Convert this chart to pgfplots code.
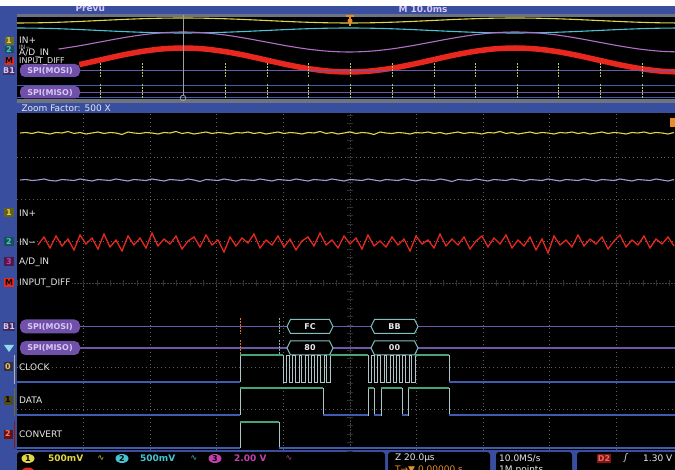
\documentclass[border=0pt]{standalone}
\usepackage{pgfplots}
\pgfplotsset{compat=1.18}
\usepackage{pgfplotstable}
\usetikzlibrary{shapes.geometric}
\usepackage{fontspec}
\setmainfont{DejaVu Sans}
\definecolor{scblue}{RGB}{58,78,160}
\definecolor{scgray}{RGB}{110,115,130}
\definecolor{yelc}{RGB}{222,214,70}
\definecolor{cyanc}{RGB}{70,196,214}
\definecolor{purc}{RGB}{180,110,200}
\definecolor{mixc}{RGB}{170,150,215}
\definecolor{redc}{RGB}{232,40,30}
\definecolor{buspur}{RGB}{110,86,168}
\definecolor{spifill}{RGB}{112,80,168}
\definecolor{spitext}{RGB}{215,200,245}
\definecolor{lowc}{RGB}{64,92,176}
\definecolor{hic}{RGB}{72,164,116}
\definecolor{edgec}{RGB}{175,198,200}
\definecolor{boxc}{RGB}{130,190,190}
\definecolor{gridc}{RGB}{95,95,100}
\definecolor{tickc}{RGB}{180,200,110}
\definecolor{lbl}{RGB}{232,232,232}
\definecolor{magc}{RGB}{196,64,176}
\definecolor{orc}{RGB}{230,140,40}

\pgfplotstableread{
x yel cyan pur red
17 23 28 52 72
37.75 22.81 28.19 51.24 71.09
58.5 22.27 28.73 49.07 68.48
79.25 21.46 29.54 45.83 64.60
100 20.5 30.5 42 60
120.75 19.54 31.46 38.17 55.40
141.5 18.73 32.27 34.93 51.52
162.25 18.19 32.81 32.76 48.91
183 18 33 32 48
203.75 18.19 32.81 32.76 48.91
224.5 18.73 32.27 34.93 51.52
245.25 19.54 31.46 38.17 55.40
266 20.5 30.5 42 60
286.75 21.46 29.54 45.83 64.60
307.5 22.27 28.73 49.07 68.48
328.25 22.81 28.19 51.24 71.09
349 23 28 52 72
369.75 22.81 28.19 51.24 71.09
390.5 22.27 28.73 49.07 68.48
411.25 21.46 29.54 45.83 64.60
432 20.5 30.5 42 60
452.75 19.54 31.46 38.17 55.40
473.5 18.73 32.27 34.93 51.52
494.25 18.19 32.81 32.76 48.91
515 18 33 32 48
535.75 18.19 32.81 32.76 48.91
556.5 18.73 32.27 34.93 51.52
577.25 19.54 31.46 38.17 55.40
598 20.5 30.5 42 60
618.75 21.46 29.54 45.83 64.60
639.5 22.27 28.73 49.07 68.48
660.25 22.81 28.19 51.24 71.09
681 23 28 52 72
}\overtab

\pgfplotstableread{
x yel pur red
20 133 180 242
26 132.5 179.5 242
32 133.5 180.5 241
38 132 180 245
44 133 179 237
50 134 180.5 248
56 132.5 181 236
62 133 179.5 246
68 131.5 180 239
74 133.5 180.5 250
80 132.5 179 235
86 134 180 244
92 133 181 238
98 132 179.5 249
104 133.5 180 234
110 132.5 180.5 247
116 133 179 240
122 134.5 180 251
128 132 181 236
134 133 179.5 245
140 133.5 180 238
146 132.5 180.5 248
152 133 179 233
158 134 180 246
164 132.5 181 239
170 133 179.5 244
176 131.5 180 236
182 133.5 180.5 249
188 132.5 179 241
194 134 180 237
200 133 181.5 247
206 132 179.5 235
212 133.5 180 245
218 132.5 180.5 240
224 133 179 252
230 134 180 237
236 132.5 181 246
242 133 179.5 238
248 132 180 243
254 133.5 180.5 234
260 132.5 179 248
266 134 180 240
272 133 181 245
278 132 179.5 236
284 133.5 180 247
290 132.5 180.5 239
296 133 179 250
302 134 180 241
308 132.5 181 237
314 133 179.5 246
320 131.5 180 233
326 133.5 180.5 245
332 132.5 179 240
338 134 180 248
344 133 181 236
350 132 179.5 244
356 133.5 180 238
362 132.5 180.5 249
368 133 179 235
374 134.5 180 246
380 132 181 241
386 133 179.5 247
392 133.5 180 237
398 132.5 180.5 245
404 133 179 239
410 134 180 251
416 132.5 181 236
422 133 179.5 244
428 132 180 240
434 133.5 180.5 248
440 132.5 179 234
446 134 180 246
452 133 181.5 239
458 132 179.5 245
464 133.5 180 237
470 132.5 180.5 249
476 133 179 241
482 134 180 236
488 132.5 181 247
494 133 179.5 238
500 131.5 180 244
506 133.5 180.5 235
512 132.5 179 248
518 134 180 240
524 133 181 246
530 132 179.5 237
536 133.5 180 250
542 132.5 180.5 239
548 133 179 253
554 134 180 236
560 132.5 181 245
566 133 179.5 240
572 132 180 247
578 133.5 180.5 235
584 132.5 179 246
590 134 180 239
596 133 181 244
602 132 179.5 237
608 133.5 180 249
614 132.5 180.5 241
620 133 179 235
626 134 180 247
632 132.5 181 240
638 133 179.5 245
644 132 180 236
650 133.5 180.5 248
656 132.5 179 239
662 133 180 244
668 134 181 237
674 132.5 179.5 246
}\zoomtab

\newcommand{\lf}{\fontsize{9}{10}\selectfont}
\newcommand{\smf}{\fontsize{8}{9}\selectfont}
\newcommand{\tnf}{\fontsize{6}{7}\selectfont}

\begin{document}
\begin{tikzpicture}
\begin{axis}[width=675pt,height=470pt,scale only axis,
  xmin=0,xmax=675,ymin=0,ymax=470,y dir=reverse,hide axis,
  clip=true, unbounded coords=jump]

% ---------- backgrounds ----------
\fill[scblue] (axis cs:0,0) rectangle (axis cs:675,470);
\fill[black] (axis cs:17,15) rectangle (axis cs:675,100);
\fill[scgray] (axis cs:17,14) rectangle (axis cs:675,17);
\fill[scgray] (axis cs:17,99) rectangle (axis cs:675,103);
\fill[black] (axis cs:17,113) rectangle (axis cs:675,450);

% ---------- top bar text ----------
\node[anchor=west,text=spitext,font=\lf\bfseries] at (axis cs:72,8) {Prevu};
\node[anchor=west,text=spitext,font=\lf\bfseries] at (axis cs:395,9) {M 10.0ms};
\fill[white] (axis cs:0,0) rectangle (axis cs:675,6.5);
\node[anchor=west,text=lbl,font=\lf] at (axis cs:18,108) {Zoom Factor: 500 X};

% ---------- overview panel ----------
\addplot[yelc, line width=1.1pt, smooth] table[x=x,y=yel]{\overtab};
\addplot[cyanc, line width=1.1pt, smooth] table[x=x,y=cyan]{\overtab};
\addplot[purc, line width=1.1pt, smooth, restrict x to domain=58:682] table[x=x,y=pur]{\overtab};
\addplot[redc, line width=5.5pt, smooth, restrict x to domain=79:682] table[x=x,y=red]{\overtab};
\addplot[buspur, line width=1.2pt] coordinates {(80,70.5)(675,70.5)};
\addplot[lowc, line width=1pt] coordinates {(17,86)(675,86)};
\addplot[buspur, line width=1.2pt] coordinates {(80,92.5)(675,92.5)};
\addplot[lowc, line width=0.8pt] coordinates {(17,97)(675,97)};
\addplot[tickc, line width=0.8pt, dash pattern=on 2pt off 1pt] coordinates {
(100,63)(100,77)(100,nan)(142,63)(142,77)(142,nan)(225,63)(225,77)(225,nan)
(267,63)(267,77)(267,nan)(308,63)(308,77)(308,nan)(350,63)(350,77)(350,nan)
(392,63)(392,77)(392,nan)(434,63)(434,77)(434,nan)(475,63)(475,77)(475,nan)
(517,63)(517,77)(517,nan)(558,63)(558,77)(558,nan)(600,63)(600,77)(600,nan)
(642,63)(642,77)(642,nan)
(100,84)(100,98)(100,nan)(142,84)(142,98)(142,nan)(225,84)(225,98)(225,nan)
(267,84)(267,98)(267,nan)(308,84)(308,98)(308,nan)(350,84)(350,98)(350,nan)
(392,84)(392,98)(392,nan)(434,84)(434,98)(434,nan)(475,84)(475,98)(475,nan)
(517,84)(517,98)(517,nan)(558,84)(558,98)(558,nan)(600,84)(600,98)(600,nan)
(642,84)(642,98)};
\addplot[gray!75, line width=1pt] coordinates {(183,15)(183,95)};
\draw[gray!75, line width=0.8pt] (axis cs:183,98) circle[radius=2.8pt];
\draw[orc, line width=1.6pt] (axis cs:346,16)--(axis cs:354,16);
\draw[orc, line width=1.6pt] (axis cs:350,16)--(axis cs:350,26);
\fill[orc] (axis cs:350,21) circle[radius=2.5pt];
% overview labels
\fill[spifill, rounded corners=5pt] (axis cs:20,64) rectangle (axis cs:80,77);
\node[text=spitext,font=\smf\bfseries] at (axis cs:50,70.5) {SPI(MOSI)};
\fill[spifill, rounded corners=5pt] (axis cs:20,86) rectangle (axis cs:80,98.5);
\node[text=spitext,font=\smf\bfseries] at (axis cs:50,92.5) {SPI(MISO)};
\node[anchor=west,text=lbl,font=\lf,inner sep=0pt] at (axis cs:19,40) {IN+};
\node[anchor=west,text=gray!60,font=\tnf,inner sep=0pt] at (axis cs:19,47) {IN−};
\node[anchor=west,text=lbl,font=\smf,inner sep=0pt] at (axis cs:19,61.5) {INPUT\_DIFF};
\node[anchor=west,text=lbl,font=\lf,inner sep=0pt] at (axis cs:19,53.5) {A/D\_IN};
\node[fill=yelc!50!black,text=yelc,font=\smf\bfseries,inner sep=0.5pt,minimum width=9pt,minimum height=8pt] at (axis cs:9,41) {1};
\node[fill=cyanc!40!black,text=cyanc,font=\smf\bfseries,inner sep=0.5pt,minimum width=9pt,minimum height=7pt] at (axis cs:9,50) {2};
\node[fill=redc,text=black,font=\smf\bfseries,inner sep=0.5pt,minimum width=9pt,minimum height=8pt] at (axis cs:9,61) {M};
\node[fill=spifill!60!black,text=spitext,font=\smf\bfseries,inner sep=0.5pt,minimum width=10pt,minimum height=8pt] at (axis cs:9,71) {B1};

% ---------- main panel grid ----------
\pgfplotsextra{
  \foreach \gx in {83.6,150.2,216.8,283.4,416.6,483.2,549.8,616.4}{
    \draw[gridc, line width=0.7pt, dash pattern=on 0.7pt off 3.2pt] (axis cs:\gx,114) -- (axis cs:\gx,450);}
  \foreach \gy in {157,199,241,367,409}{
    \draw[gridc, line width=0.7pt, dash pattern=on 0.7pt off 3.2pt] (axis cs:17,\gy) -- (axis cs:675,\gy);}
  \draw[gridc!120, line width=0.7pt, dash pattern=on 1.5pt off 1.5pt] (axis cs:350,114) -- (axis cs:350,450);
  \draw[gridc!120, line width=0.7pt, dash pattern=on 1.5pt off 1.5pt] (axis cs:17,283) -- (axis cs:675,283);
  \foreach \k in {0,...,40}{
    \draw[gridc!130, line width=0.7pt] (axis cs:347,{115+8.4*\k}) -- (axis cs:353,{115+8.4*\k});}
  \foreach \k in {0,...,49}{
    \draw[gridc!130, line width=0.7pt] (axis cs:{17+13.32*\k},280) -- (axis cs:{17+13.32*\k},286);}
}

% ---------- analog traces ----------
\addplot[yelc, line width=1.1pt] table[x=x,y=yel]{\zoomtab};
\addplot[mixc, line width=1.1pt] table[x=x,y=pur]{\zoomtab};
\addplot[redc, line width=1.3pt, restrict x to domain=37:675] table[x=x,y=red]{\zoomtab};
\fill[orc] (axis cs:670,118) rectangle (axis cs:675,127);

% ---------- SPI buses ----------
\addplot[buspur, line width=1.5pt, solid] coordinates {(80,326.5)(675,326.5)};
\addplot[buspur, line width=1.5pt, solid] coordinates {(80,348)(675,348)};
\addplot[fill=black, draw=boxc, line width=1pt] coordinates {(287,326.5)(290.5,319.5)(329.5,319.5)(333,326.5)(329.5,333.5)(290.5,333.5)} -- cycle;
\addplot[fill=black, draw=boxc, line width=1pt] coordinates {(371,326.5)(374.5,319.5)(414.5,319.5)(418,326.5)(414.5,333.5)(374.5,333.5)} -- cycle;
\addplot[fill=black, draw=boxc, line width=1pt] coordinates {(287,348)(290.5,341)(329.5,341)(333,348)(329.5,355)(290.5,355)} -- cycle;
\addplot[fill=black, draw=boxc, line width=1pt] coordinates {(371,348)(374.5,341)(414.5,341)(418,348)(414.5,355)(374.5,355)} -- cycle;
\node[text=lbl,font=\smf\bfseries] at (axis cs:310,326.5) {FC};
\node[text=lbl,font=\smf\bfseries] at (axis cs:394.5,326.5) {BB};
\node[text=lbl,font=\smf\bfseries] at (axis cs:310,348) {80};
\node[text=lbl,font=\smf\bfseries] at (axis cs:394.5,348) {00};
\addplot[orc!80!red, line width=0.8pt, dash pattern=on 2pt off 1pt] coordinates {(240,318)(240,334)(240,nan)(240,340)(240,355)};
\addplot[hic!70!white, line width=0.8pt, dash pattern=on 2pt off 1pt] coordinates {(279,318)(279,334)(279,nan)(279,340)(279,355)};
\fill[spifill, rounded corners=5.5pt] (axis cs:20,319.5) rectangle (axis cs:80,333.5);
\node[text=spitext,font=\smf\bfseries] at (axis cs:50,326.5) {SPI(MOSI)};
\fill[spifill, rounded corners=5.5pt] (axis cs:20,341) rectangle (axis cs:80,355);
\node[text=spitext,font=\smf\bfseries] at (axis cs:50,348) {SPI(MISO)};

% ---------- digital channels ----------
% CLOCK
\addplot[edgec, line width=0.9pt] coordinates {(240,382)(240,355)(283,355)(283,382)(286.5,382)(286.5,355)(289.25,355)(289.25,382)(292.75,382)(292.75,355)(295.5,355)(295.5,382)(299,382)(299,355)(301.75,355)(301.75,382)(305.25,382)(305.25,355)(308,355)(308,382)(311.5,382)(311.5,355)(314.25,355)(314.25,382)(317.75,382)(317.75,355)(320.5,355)(320.5,382)(324,382)(324,355)(326.75,355)(326.75,382)(330.25,382)(330.25,355)(368,355)(368,382)(371.5,382)(371.5,355)(374.25,355)(374.25,382)(377.75,382)(377.75,355)(380.5,355)(380.5,382)(384,382)(384,355)(386.75,355)(386.75,382)(390.25,382)(390.25,355)(393,355)(393,382)(396.5,382)(396.5,355)(399.25,355)(399.25,382)(402.75,382)(402.75,355)(405.5,355)(405.5,382)(409,382)(409,355)(411.75,355)(411.75,382)(415.25,382)(415.25,355)(449,355)(449,382)};
\addplot[hic, line width=1.2pt] coordinates {(240,355)(283,355)(283,nan)(330.25,355)(368,355)(368,nan)(415.25,355)(449,355)};
\addplot[lowc, line width=1.2pt] coordinates {(17,382)(240,382)(240,nan)(449,382)(675,382)};
% DATA
\addplot[edgec, line width=0.9pt] coordinates {(240,415)(240,388)(323,388)(323,415)(368,415)(368,388)(374,388)(374,415)(381,415)(381,388)(402,388)(402,415)(408,415)(408,388)(449,388)(449,415)};
\addplot[hic, line width=1.2pt] coordinates {(240,388)(323,388)(323,nan)(368,388)(374,388)(374,nan)(381,388)(402,388)(402,nan)(408,388)(449,388)};
\addplot[lowc, line width=1.2pt] coordinates {(17,415)(240,415)(240,nan)(323,415)(368,415)(368,nan)(374,415)(381,415)(381,nan)(402,415)(408,415)(408,nan)(449,415)(675,415)};
% CONVERT
\addplot[edgec, line width=0.9pt] coordinates {(240,448)(240,422)(279,422)(279,448)};
\addplot[hic, line width=1.2pt] coordinates {(240,422)(279,422)};
\addplot[lowc, line width=1.2pt] coordinates {(17,448)(240,448)(240,nan)(279,448)(675,448)};

% ---------- main labels ----------
\node[anchor=west,text=lbl,font=\lf,inner sep=0pt] at (axis cs:19,213) {IN+};
\node[anchor=west,text=lbl,font=\lf,inner sep=0pt] at (axis cs:19,242) {IN−};
\node[anchor=west,text=lbl,font=\lf,inner sep=0pt] at (axis cs:19,262) {A/D\_IN};
\node[anchor=west,text=lbl,font=\lf,inner sep=1pt,fill=black] at (axis cs:18,283) {INPUT\_DIFF};
\node[anchor=west,text=lbl,font=\lf,inner sep=0pt] at (axis cs:19,367) {CLOCK};
\node[anchor=west,text=lbl,font=\lf,inner sep=0pt] at (axis cs:19,400) {DATA};
\node[anchor=west,text=lbl,font=\lf,inner sep=0pt] at (axis cs:19,434) {CONVERT};
\node[fill=yelc!45!black,text=yelc,font=\smf\bfseries,inner sep=0.5pt,minimum width=10pt,minimum height=9pt] at (axis cs:9,213) {1};
\node[fill=cyanc!40!black,text=cyanc,font=\smf\bfseries,inner sep=0.5pt,minimum width=10pt,minimum height=9pt] at (axis cs:9,242) {2};
\node[fill=magc!40!black,text=magc,font=\smf\bfseries,inner sep=0.5pt,minimum width=10pt,minimum height=9pt] at (axis cs:9,262) {3};
\node[fill=redc,text=black,font=\smf\bfseries,inner sep=0.5pt,minimum width=10pt,minimum height=9pt] at (axis cs:9,283) {M};
\node[fill=spifill!55!black,text=spitext,font=\smf\bfseries,inner sep=0.5pt,minimum width=11pt,minimum height=9pt] at (axis cs:9,326.5) {B1};
\fill[cyanc!60!white] (axis cs:4,345) -- (axis cs:14,345) -- (axis cs:9,352) -- cycle;
\node[fill=black!80,text=orc!60!white,font=\smf\bfseries,inner sep=0.5pt,minimum width=9pt,minimum height=9pt] at (axis cs:8,367) {0};
\node[fill=yelc!35!black,text=black,font=\smf\bfseries,inner sep=0.5pt,minimum width=9pt,minimum height=9pt] at (axis cs:8,400) {1};
\node[fill=redc!45!black,text=redc!60!white,font=\smf\bfseries,inner sep=0.5pt,minimum width=9pt,minimum height=9pt] at (axis cs:8,434) {2};
\draw[gray!60, line width=0.8pt] (axis cs:14,355) -- (axis cs:14,384);
\draw[yelc!50!black, line width=0.8pt] (axis cs:14,388) -- (axis cs:14,416);
\draw[redc!60!black, line width=0.8pt] (axis cs:14,421) -- (axis cs:14,449);

% ---------- status bar ----------
\fill[black, rounded corners=3pt] (axis cs:17,452) rectangle (axis cs:385,478);
\fill[black, rounded corners=3pt] (axis cs:388,452) rectangle (axis cs:490,478);
\fill[black, rounded corners=3pt] (axis cs:496,452) rectangle (axis cs:572,478);
\fill[black, rounded corners=3pt] (axis cs:577,452) rectangle (axis cs:690,478);
\node[ellipse,fill=yelc,text=black,font=\smf\bfseries,inner sep=0pt,minimum width=13pt,minimum height=9pt] at (axis cs:28,458.5) {1};
\node[anchor=west,text=yelc,font=\lf\bfseries,inner sep=0pt] at (axis cs:48,458.5) {500mV};
\node[text=yelc,font=\smf,inner sep=0pt] at (axis cs:101,458.5) {∿};
\node[ellipse,fill=cyanc,text=black,font=\smf\bfseries,inner sep=0pt,minimum width=13pt,minimum height=9pt] at (axis cs:122,458.5) {2};
\node[anchor=west,text=cyanc,font=\lf\bfseries,inner sep=0pt] at (axis cs:140,458.5) {500mV};
\node[text=cyanc,font=\smf,inner sep=0pt] at (axis cs:194,458.5) {∿};
\node[ellipse,fill=magc,text=black,font=\smf\bfseries,inner sep=0pt,minimum width=13pt,minimum height=9pt] at (axis cs:215,458.5) {3};
\node[anchor=west,text=magc,font=\lf\bfseries,inner sep=0pt] at (axis cs:234,458.5) {2.00 V};
\node[text=magc,font=\smf,inner sep=0pt] at (axis cs:289,458.5) {∿};
\node[ellipse,fill=redc,inner sep=0pt,minimum width=13pt,minimum height=9pt] at (axis cs:28,472) {};
\node[anchor=west,text=lbl,font=\lf,inner sep=0pt] at (axis cs:395,458.5) {Z 20.0µs};
\node[anchor=west,text=orc,font=\lf,inner sep=0pt] at (axis cs:395,470) {T→▼ 0.00000 s};
\node[anchor=west,text=lbl,font=\lf,inner sep=0pt] at (axis cs:499,458.5) {10.0MS/s};
\node[anchor=west,text=lbl,font=\lf,inner sep=0pt] at (axis cs:499,470) {1M points};
\node[fill=redc!55!black,text=redc!70!white,font=\smf\bfseries,inner sep=1pt,minimum width=14pt,minimum height=9pt] at (axis cs:604,458.5) {D2};
\node[text=lbl,font=\lf\itshape,inner sep=0pt] at (axis cs:626,458.5) {ʃ};
\node[anchor=west,text=lbl,font=\lf,inner sep=0pt] at (axis cs:643,458.5) {1.30 V};
\end{axis}
\pgfresetboundingbox
\path (current axis.south west) rectangle (current axis.north east);
\end{tikzpicture}
\end{document}
